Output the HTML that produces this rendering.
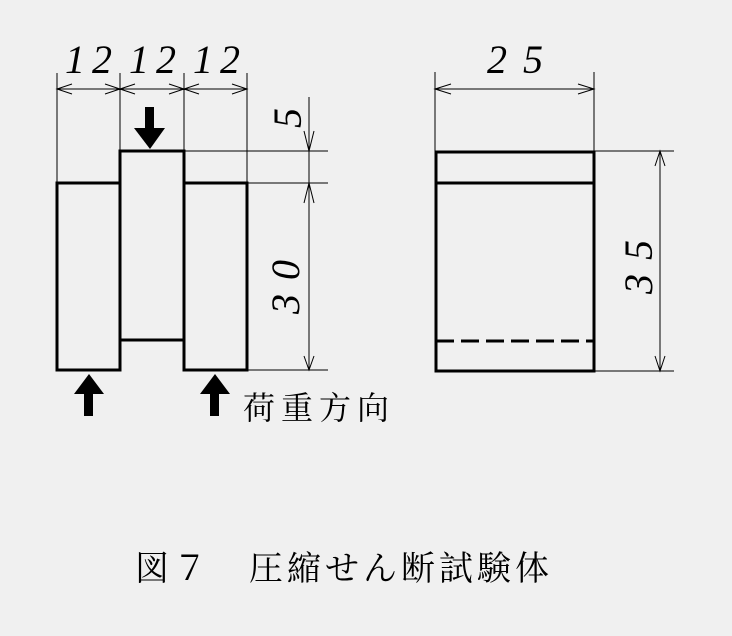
<!DOCTYPE html>
<html><head><meta charset="utf-8"><style>
html,body{margin:0;padding:0;background:#f0f0f0;}
svg{display:block}
</style></head><body>
<svg width="732" height="636" viewBox="0 0 732 636" xmlns="http://www.w3.org/2000/svg">
<rect width="732" height="636" fill="#f0f0f0"/>
<g stroke="#000" stroke-width="1" fill="none">
<line x1="57" y1="73" x2="57" y2="183"/>
<line x1="120" y1="73" x2="120" y2="151"/>
<line x1="184" y1="73" x2="184" y2="151"/>
<line x1="247" y1="73" x2="247" y2="183"/>
<line x1="57" y1="89" x2="247" y2="89"/>
<path d="M72 84 L57 89 L72 94 M105 84 L120 89 L105 94 M135 84 L120 89 L135 94 M169 84 L184 89 L169 94 M199 84 L184 89 L199 94 M232 84 L247 89 L232 94"/>
<line x1="184" y1="151" x2="328" y2="151"/>
<line x1="247" y1="183" x2="328" y2="183"/>
<line x1="247" y1="370" x2="328" y2="370"/>
<line x1="309" y1="97" x2="309" y2="370"/>
<path d="M304 131 L309 151 L314 131 M304 203 L309 183 L314 203 M304 356 L309 370 L314 356"/>
<line x1="435" y1="72" x2="435" y2="151"/>
<line x1="594" y1="72" x2="594" y2="151"/>
<line x1="435" y1="89" x2="594" y2="89"/>
<path d="M451 84 L435 89 L451 94 M578 84 L594 89 L578 94"/>
<line x1="594" y1="151" x2="674" y2="151"/>
<line x1="594" y1="371" x2="674" y2="371"/>
<line x1="660" y1="151" x2="660" y2="371"/>
<path d="M655 166 L660 151 L665 166 M655 356 L660 371 L665 356"/>
</g>
<g stroke="#000" stroke-width="3" fill="none">
<rect x="57" y="183" width="63" height="187"/>
<rect x="184" y="183" width="63" height="187"/>
<path d="M120 340 L120 151 L184 151 L184 340 Z"/>
<rect x="436" y="152" width="158" height="219"/>
<line x1="436" y1="183" x2="594" y2="183"/>
<line x1="436" y1="341" x2="594" y2="341" stroke-dasharray="18,7"/>
</g>
<g fill="#000">
<rect x="145" y="107" width="9" height="22"/><polygon points="134,128 165,128 150,149"/>
<rect x="84" y="393" width="9" height="23"/><polygon points="74,394 104,394 89,374"/>
<rect x="210" y="393" width="9" height="23"/><polygon points="200,394 230,394 215,374"/>
</g>
<g font-family="Liberation Serif, serif" font-style="italic" font-size="40" fill="#000">
<text x="65" y="73" letter-spacing="7">12</text>
<text x="129" y="73" letter-spacing="7">12</text>
<text x="193" y="73" letter-spacing="7">12</text>
<text x="487" y="73" letter-spacing="16">25</text>
<text transform="translate(301,128) rotate(-90)">5</text>
<text transform="translate(299,314) rotate(-90)" letter-spacing="14">30</text>
<text transform="translate(652,294) rotate(-90)" letter-spacing="14">35</text>
</g>
<g font-family="Liberation Serif, 'Noto Serif CJK SC', serif" fill="#000">
<text x="243" y="419" font-size="32" letter-spacing="6">荷重方向</text>
<text x="135" y="580" font-size="34" letter-spacing="4">図７　圧縮せん断試験体</text>
</g>
</svg>
</body></html>
